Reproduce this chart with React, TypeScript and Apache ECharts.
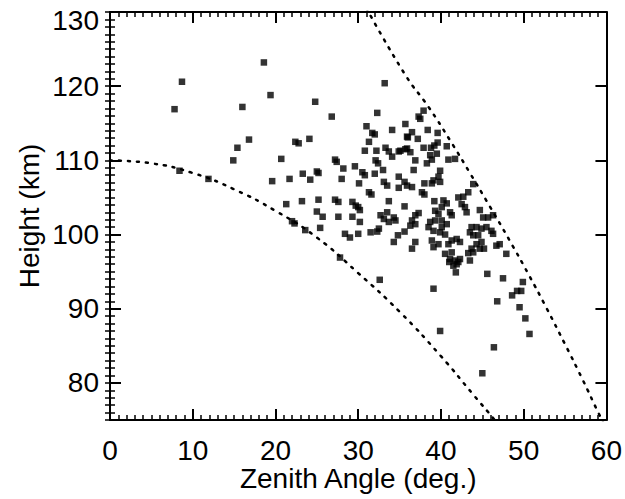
import React, { useEffect, useRef } from "react";
import * as echarts from "echarts";

// Zenith angle (deg.) and height (km) of each observed point
const points: [number, number][] = [
  [7.8, 116.9], [8.7, 120.6], [8.4, 108.6], [11.9, 107.5], [14.9, 110.0], [15.4, 111.7],
  [16.0, 117.2], [16.8, 112.8], [18.6, 123.2], [19.4, 118.8], [19.6, 107.2], [20.7, 110.2],
  [21.3, 104.1], [21.7, 107.5], [22.0, 101.8], [22.3, 101.5], [22.4, 112.5], [22.8, 112.3],
  [23.2, 104.5], [23.3, 108.2], [23.6, 100.6], [24.1, 112.9], [24.2, 107.4], [24.8, 117.9],
  [25.0, 108.5], [25.2, 108.3], [25.2, 104.7], [25.0, 103.1], [25.7, 102.4], [25.4, 100.9],
  [26.8, 115.9], [27.2, 110.1], [27.4, 109.8], [27.2, 104.7], [27.6, 104.4], [27.6, 102.4],
  [27.8, 96.9], [28.0, 107.5], [28.2, 108.9], [28.4, 100.1], [29.0, 99.6], [29.3, 104.4],
  [29.7, 103.9], [29.3, 102.4], [29.6, 109.2], [30.1, 106.9], [30.0, 103.7], [30.2, 103.3],
  [30.2, 101.7], [30.0, 100.1], [30.5, 108.4], [30.8, 108.0], [30.8, 111.3], [31.0, 114.6],
  [31.3, 112.5], [31.3, 105.7], [31.6, 105.4], [31.5, 100.3], [31.7, 113.7], [32.0, 113.5],
  [32.0, 108.2], [32.1, 110.0], [32.4, 109.6], [32.2, 111.3], [32.3, 116.4], [32.5, 100.8],
  [32.3, 100.4], [32.6, 93.9], [32.7, 102.6], [33.0, 108.7], [33.1, 107.1], [33.1, 102.1],
  [33.2, 120.4], [33.3, 111.7], [33.5, 106.6], [33.5, 103.0], [33.7, 111.2], [33.7, 104.5],
  [33.7, 101.7], [34.1, 114.1], [34.1, 110.5], [34.3, 102.3], [34.5, 101.9], [34.3, 99.0],
  [34.8, 99.9], [34.9, 111.2], [34.9, 107.8], [34.9, 106.3], [35.1, 111.3], [35.6, 107.1],
  [35.9, 106.6], [35.6, 103.8], [35.6, 100.4], [35.7, 114.9], [35.9, 113.2], [35.7, 111.5],
  [36.0, 113.1], [35.9, 111.6], [36.3, 111.1], [36.5, 113.8], [36.3, 101.2], [36.5, 106.4],
  [36.5, 101.9], [36.5, 98.1], [36.7, 108.7], [36.9, 110.0], [36.9, 102.6], [36.9, 101.4],
  [36.9, 99.0], [37.2, 112.9], [37.3, 115.9], [37.5, 115.6], [37.3, 102.9], [37.7, 105.7],
  [38.0, 105.4], [37.9, 116.7], [37.9, 111.7], [38.0, 106.9], [38.3, 109.6], [38.4, 114.1],
  [38.5, 101.0], [38.7, 110.7], [38.8, 111.7], [38.7, 101.7], [38.9, 110.1], [38.9, 106.9],
  [38.9, 99.2], [39.1, 107.3], [39.1, 100.5], [39.1, 98.3], [39.1, 92.7], [39.2, 112.0],
  [39.2, 104.5], [39.3, 103.2], [39.3, 101.9], [39.5, 110.9], [39.6, 113.7], [39.6, 112.4],
  [39.7, 107.8], [39.7, 102.8], [39.7, 98.7], [39.9, 108.6], [39.9, 107.1], [39.9, 100.3],
  [39.9, 87.0], [40.1, 103.7], [40.1, 101.9], [40.1, 101.0], [40.3, 104.6], [40.5, 100.0],
  [40.5, 97.4], [40.7, 111.9], [40.7, 104.2], [40.7, 101.4], [40.9, 110.1], [40.9, 98.7],
  [41.0, 96.3], [41.1, 103.0], [41.1, 96.7], [41.3, 102.6], [41.3, 99.2], [41.3, 97.6],
  [41.5, 95.8], [41.7, 110.2], [41.7, 96.5], [41.8, 94.9], [41.9, 99.4], [41.9, 96.0],
  [42.1, 105.0], [42.1, 96.3], [42.3, 99.0], [42.3, 96.7], [42.5, 104.1], [42.7, 105.1],
  [42.9, 103.7], [43.1, 103.0], [43.3, 105.7], [43.3, 97.5], [43.5, 100.3], [43.5, 96.5],
  [43.7, 101.0], [43.7, 98.1], [43.9, 106.8], [43.9, 99.9], [43.9, 97.6], [44.3, 101.0],
  [44.3, 98.7], [44.5, 99.9], [44.7, 103.3], [44.7, 98.1], [44.9, 100.8], [44.9, 99.0],
  [45.0, 81.3], [45.1, 102.3], [45.2, 98.1], [45.5, 101.0], [45.6, 94.7], [45.7, 102.3],
  [46.1, 100.5], [46.3, 102.6], [46.3, 100.1], [46.4, 84.8], [46.7, 98.5], [46.8, 91.0],
  [47.1, 98.7], [47.5, 94.1], [47.9, 97.4], [48.6, 91.8], [49.2, 92.4], [49.7, 92.4],
  [49.9, 93.6], [49.5, 90.2], [50.2, 88.7], [50.7, 86.6],
];

// Lower dotted limit curve
const lowerCurve: [number, number][] = [
  [0, 110], [5, 109.6], [10, 108.3], [15, 106.1], [20, 103.2], [25, 99.6],
  [30, 94.8], [35, 89.6], [40, 83.6], [44, 78.3], [46.5, 75.0], [48, 72.9],
];

// Upper dotted limit curve
const upperCurve: [number, number][] = [
  [31.0, 130.5], [35.7, 121.5], [38.5, 117.2], [41.1, 112.7], [43.5, 108.3],
  [45.9, 103.8], [48.3, 99.2], [50.6, 94.6], [52.8, 90.0], [55.0, 85.2],
  [57.1, 80.5], [59.1, 75.8], [60, 73.8],
];

const xTicks = [0, 10, 20, 30, 40, 50, 60];
const yTicks = [80, 90, 100, 110, 120, 130];
const yMin = 75;

const FONT = "Liberation Sans";
const FS = 28;

export default function App() {
  const ref = useRef<HTMLDivElement>(null);
  useEffect(() => {
    if (!ref.current) return;
    const chart = echarts.init(ref.current, null, { renderer: "svg" });
    const line = { show: true, onZero: false, lineStyle: { color: "#000", width: 2 } };
    const majorTick = { show: true, inside: true, length: 11, lineStyle: { color: "#000", width: 2 } };
    const minorTickX = { show: true, splitNumber: 10, length: 5, lineStyle: { color: "#000", width: 1.5 } };
    const shortTick = { show: true, inside: true, length: 5, lineStyle: { color: "#000", width: 1.5 } };
    const xBase = {
      type: "value" as const,
      min: xTicks[0],
      max: xTicks[xTicks.length - 1],
      interval: 10,
      axisLine: line,
      axisTick: majorTick,
      minorTick: minorTickX,
      splitLine: { show: false },
    };
    const yMajor = {
      type: "value" as const,
      min: yMin,
      max: yTicks[yTicks.length - 1],
      interval: 5,
      axisLine: line,
      axisTick: { ...majorTick, customValues: yTicks },
      splitLine: { show: false },
    };
    const yMinor = {
      type: "value" as const,
      min: yMin,
      max: yTicks[yTicks.length - 1],
      interval: 1,
      axisLine: { show: false },
      axisTick: shortTick,
      axisLabel: { show: false },
      splitLine: { show: false },
    };
    chart.setOption({
      animation: false,
      backgroundColor: "#fff",
      grid: { left: 110, right: 16, top: 12, bottom: 79, containLabel: false },
      xAxis: [
        {
          ...xBase,
          position: "bottom",
          name: "Zenith Angle (deg.)",
          nameLocation: "middle",
          nameGap: 44,
          nameMoveOverlap: false,
          nameTextStyle: { fontFamily: FONT, fontSize: FS, color: "#000" },
          axisLabel: { fontFamily: FONT, fontSize: FS, color: "#000", margin: 16 },
        },
        { ...xBase, position: "top", axisLabel: { show: false } },
      ],
      yAxis: [
        {
          ...yMajor,
          position: "left",
          axisLabel: {
            customValues: yTicks,
            fontFamily: FONT,
            fontSize: FS,
            color: "#000",
            margin: 11,
            formatter: (v: number) =>
              v === yTicks[yTicks.length - 1] ? "{t|" + v + "}" : String(v),
            rich: {
              t: { fontFamily: FONT, fontSize: FS, color: "#000", padding: [16, 0, 0, 0] },
            },
          },
          name: "Height (km)",
          nameLocation: "middle",
          nameGap: 67,
          nameMoveOverlap: false,
          nameTextStyle: { fontFamily: FONT, fontSize: FS, color: "#000" },
        },
        { ...yMinor, position: "left" },
        { ...yMajor, position: "right", axisLabel: { show: false } },
        { ...yMinor, position: "right" },
      ],
      series: [
        {
          type: "line",
          xAxisIndex: 0,
          yAxisIndex: 0,
          data: lowerCurve,
          smooth: true,
          showSymbol: false,
          clip: true,
          lineStyle: { color: "#000", width: 2.5, type: [2, 7], cap: "round" },
        },
        {
          type: "line",
          xAxisIndex: 0,
          yAxisIndex: 0,
          data: upperCurve,
          smooth: true,
          showSymbol: false,
          clip: true,
          lineStyle: { color: "#000", width: 2.5, type: [2, 7], cap: "round" },
        },
        {
          type: "scatter",
          xAxisIndex: 0,
          yAxisIndex: 0,
          data: points,
          symbol: "rect",
          symbolSize: 6.5,
          itemStyle: { color: "#000" },
        },
      ],
    });
    return () => chart.dispose();
  }, []);
  return (
    <div
      ref={ref}
      style={{ position: "fixed", left: 0, top: 0, width: 625, height: 499, background: "#fff" }}
    />
  );
}
